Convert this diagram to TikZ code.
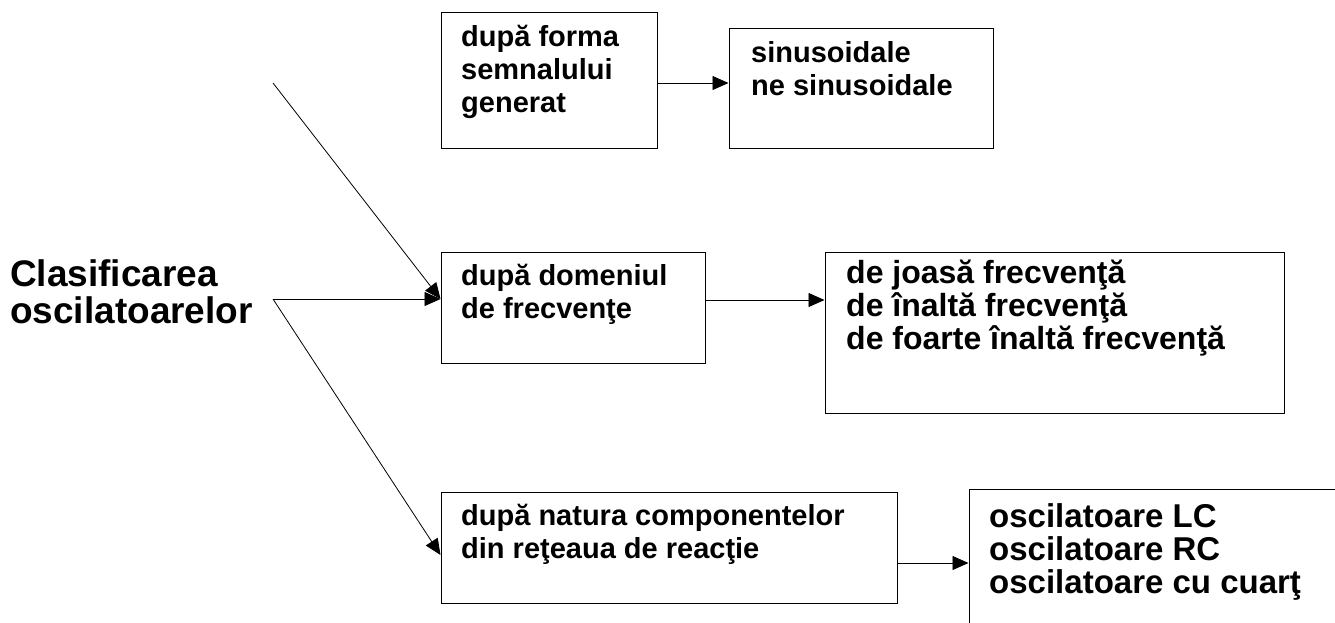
\documentclass[tikz,border=0pt]{standalone}
\usepackage{fontspec}
\setmainfont{Liberation Sans}
\usetikzlibrary{arrows.meta}
\tikzset{
  box/.style={draw, line width=1pt, inner sep=0pt},
  txt/.style={anchor=base west, align=left, inner sep=0pt, font=\bfseries\fontsize{29}{33}\selectfont},
  bigtxt/.style={txt, font=\bfseries\fontsize{32}{33}\selectfont},
  arr/.style={-{Triangle[length=16pt,width=14pt]}, line width=0.8pt},
}
\begin{document}
\begin{tikzpicture}[x=1pt,y=-1pt]
\useasboundingbox (0,0) rectangle (1335,622);
\clip (0,0) rectangle (1335,622);
% title (base = last line)
\node[txt, font=\bfseries\fontsize{37}{37}\selectfont] (cls) at (10,323){Clasificarea\\oscilatoarelor};
\coordinate (org) at (273,299);
\coordinate (top) at (273,83);
% boxes
\node[box, minimum width=216, minimum height=136] (frm) at (549,80){};
\node[box, minimum width=264, minimum height=120] (sin) at (861,88){};
\node[box, minimum width=264, minimum height=111] (dom) at (573,307.5){};
\node[box, minimum width=459, minimum height=161] (frv) at (1054.5,332.5){};
\node[box, minimum width=456, minimum height=111] (nat) at (669,547.5){};
\node[box, minimum width=381, minimum height=151] (osc) at (1159.5,564.5){};
% texts
\node[txt] (frm-t) at (461,112){după forma\\semnalului\\generat};
\node[txt] (sin-t) at (751,95){sinusoidale\\ne sinusoidale};
\node[txt] (dom-t) at (461,318){după domeniul\\de frecvenţe};
\node[bigtxt] (frv-t) at (846,349){de joasă frecvenţă\\de înaltă frecvenţă\\de foarte înaltă frecvenţă};
\node[txt] (nat-t) at (461,558){după natura componentelor\\din reţeaua de reacţie};
\node[bigtxt, font=\bfseries\fontsize{33}{33}\selectfont] (osc-t) at (989,593){oscilatoare LC\\oscilatoare RC\\oscilatoare cu cuarţ};
% connectors
\draw[arr] (top) -- (dom.west |- org);
\draw[arr] (org) -- (dom.west |- org);
\draw[arr] (org) -- ([yshift=-7.5]nat.west);
\draw[arr] (frm.east |- 0,83) -- (sin.west |- 0,83);
\draw[arr] (dom.east |- 0,300) -- (frv.west |- 0,300);
\draw[arr] (nat.east |- 0,563) -- (osc.west |- 0,563);
\end{tikzpicture}
\end{document}
